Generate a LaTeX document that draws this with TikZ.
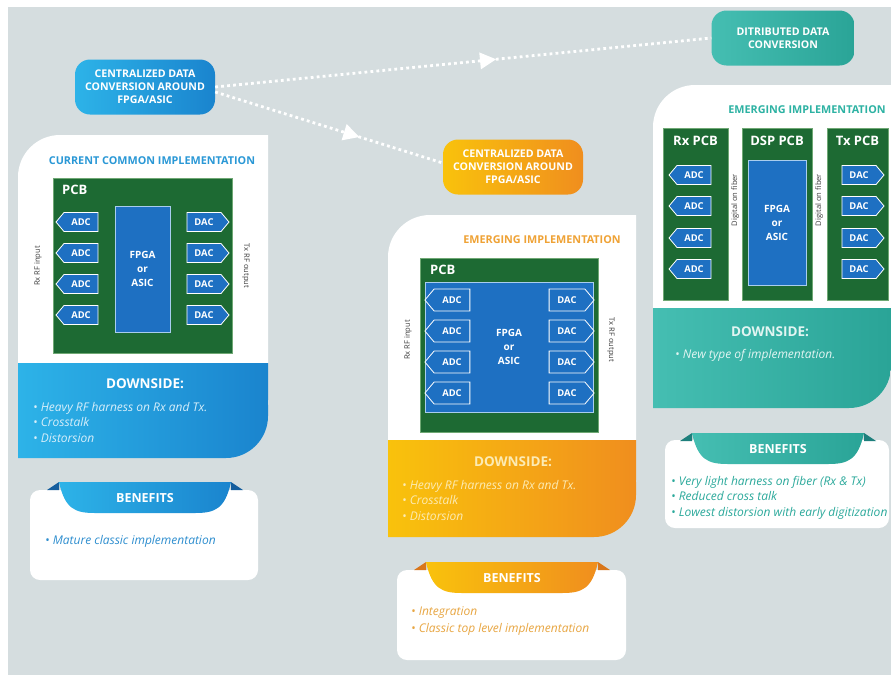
\documentclass[tikz,border=0pt]{standalone}
\usepackage{fontspec}
\setmainfont{Open Sans}
\usetikzlibrary{shapes.symbols,arrows.meta,decorations.markings}

\definecolor{bggray}{HTML}{D5DDDF}
\definecolor{pcbgreen}{HTML}{1D6A33}
\definecolor{pcbedge}{HTML}{6FA874}
\definecolor{chipblue}{HTML}{1E70C2}
\definecolor{chipedge}{HTML}{A9CDEE}
\definecolor{blueA}{HTML}{2DB3E8}
\definecolor{blueB}{HTML}{1A84CE}
\definecolor{blueDark}{HTML}{155E9E}
\definecolor{blueTitle}{HTML}{2A98D6}
\definecolor{blueText}{HTML}{2E8ECF}
\definecolor{blueLight}{HTML}{D6EEFA}
\definecolor{orA}{HTML}{F9C20C}
\definecolor{orB}{HTML}{F08E1E}
\definecolor{orDark}{HTML}{D9761A}
\definecolor{orTitle}{HTML}{EFA235}
\definecolor{orText}{HTML}{E8A642}
\definecolor{orLight}{HTML}{FCEBB4}
\definecolor{tlA}{HTML}{45BEB2}
\definecolor{tlB}{HTML}{2AA497}
\definecolor{tlDark}{HTML}{1E7F7C}
\definecolor{tlTitle}{HTML}{2DB2A3}
\definecolor{tlText}{HTML}{2BA99B}
\definecolor{tlLight}{HTML}{E2F5F2}
\definecolor{sidegray}{HTML}{3E3E3E}

\tikzset{
  pill/.style={rounded corners=15pt, minimum width=140pt, minimum height=55pt,
    text=white, font=\bfseries\fontsize{10.6}{12.8}\selectfont, align=center, inner sep=2pt},
  paneltitle/.style={font=\bfseries\fontsize{10.8}{11}\selectfont},
  pcbboard/.style={fill=pcbgreen, draw=pcbedge, line width=0.8pt, inner sep=0pt},
  pcblabel/.style={text=white, font=\bfseries\fontsize{13}{13}\selectfont, inner sep=0pt},
  chip/.style={fill=chipblue, draw=chipedge, line width=0.9pt, inner sep=0pt,
    text=white, font=\bfseries\fontsize{10}{14}\selectfont, align=center},
  tagbase/.style={signal, signal pointer angle=100, fill=chipblue, draw=white,
    line width=0.8pt, text=white, font=\bfseries\fontsize{9.4}{10}\selectfont,
    minimum width=42pt, minimum height=19pt, inner sep=1pt},
  adctag/.style={tagbase, signal to=west},
  dactag/.style={tagbase, signal to=east},
  bigadc/.style={adctag, minimum width=45pt, minimum height=22pt},
  bigdac/.style={dactag, minimum width=45pt, minimum height=22pt},
  sidelabel/.style={text=sidegray, font=\fontsize{7.6}{8}\selectfont, inner sep=0pt},
  downhead/.style={font=\bfseries\fontsize{13.5}{14}\selectfont, inner sep=0pt},
  bullets/.style={font=\itshape\fontsize{12}{15.5}\selectfont, align=left, inner sep=0pt},
  bentitle/.style={text=white, font=\bfseries\fontsize{12.5}{13}\selectfont, inner sep=0pt},
  dotlink/.style={white, line width=2.8pt, dash pattern=on 2.8pt off 3.2pt},
  linkarrow/.style={postaction={decorate}, decoration={markings,
    mark=at position #1 with {\fill[white, solid] (8pt,0) -- (-8pt,8.5pt) -- (-8pt,-8.5pt) -- cycle;}}},
  x=1pt, y=-1pt
}

% Ribbon tab carrying the BENEFITS heading: name, centre x, top y, light, dark-end, fold colour
\newcommand\benribbon[6]{%
  \fill[#6] ({#2-98},{#3+8}) -- ({#2-86},#3) -- ({#2-86},{#3+8}) -- cycle;
  \fill[#6] ({#2+98},{#3+8}) -- ({#2+86},#3) -- ({#2+86},{#3+8}) -- cycle;
  \shade[left color=#4, right color=#5] ({#2-86},#3) -- ({#2+86},#3)
    .. controls ({#2+80},{#3+27}) and ({#2+70},{#3+31}) .. ({#2+50},{#3+31})
    -- ({#2-50},{#3+31})
    .. controls ({#2-70},{#3+31}) and ({#2-80},{#3+27}) .. ({#2-86},#3) -- cycle;
  \node[bentitle] (#1) at (#2,{#3+16}) {BENEFITS};
}

\begin{document}
\begin{tikzpicture}
\useasboundingbox (0,0) rectangle (891,675);
\fill[white] (0,0) rectangle (891,675);
\fill[bggray] (8,7) rectangle (891,675);

% ---------- headline pills ----------
\node[pill, left color=blueA, right color=blueB] (cen) at (145,87)
  {CENTRALIZED DATA\\CONVERSION AROUND\\FPGA/ASIC};
\node[pill, left color=tlA, right color=tlB, minimum width=143pt] (dist) at (783,38)
  {DITRIBUTED DATA\\CONVERSION};
\node[pill, left color=orA, right color=orB] (cen2) at (513,167)
  {CENTRALIZED DATA\\CONVERSION AROUND\\FPGA/ASIC};

\draw[dotlink, linkarrow=0.55] (cen.east) -- (dist.west);
\draw[dotlink, linkarrow=0.6] ([yshift=-5pt]cen.east) -- ([yshift=4pt]cen2.west);

% ---------- panel 1: current common implementation ----------
\fill[white] [rounded corners=42pt] (18,135) rectangle (268,363)
  [sharp corners] (100,135) rectangle (268,363) (18,250) rectangle (268,363);
\shade[left color=blueA, right color=blueB] [rounded corners=42pt] (18,363) rectangle (268,458)
  [sharp corners] (18,363) rectangle (200,458) (18,363) rectangle (268,400);
\node[paneltitle, text=blueTitle] (t1) at (152,161) {CURRENT COMMON IMPLEMENTATION};

\node[pcbboard, minimum width=179pt, minimum height=175pt] (pcbA) at (142.5,265.5) {};
\node[pcblabel, anchor=west] (pcbAl) at (62,190) {PCB};
\node[chip, minimum width=55pt, minimum height=126pt] (fpgaA) at (142.5,269) {FPGA\\or\\ASIC};
\node[adctag] (a1) at (81,222) {ADC};
\node[adctag] (a2) at (81,253) {ADC};
\node[adctag] (a3) at (81,284) {ADC};
\node[adctag] (a4) at (81,315) {ADC};
\node[dactag] (d1) at (204,222) {DAC};
\node[dactag] (d2) at (204,253) {DAC};
\node[dactag] (d3) at (204,284) {DAC};
\node[dactag] (d4) at (204,315) {DAC};
\node[sidelabel, rotate=90] (rxA) at (38,266) {Rx RF input};
\node[sidelabel, rotate=-90] (txA) at (246,266) {Tx RF output};

\node[downhead, text=white] (dA) at (145,384) {DOWNSIDE:};
\node[bullets, text=blueLight, anchor=north west] (dAb) at (33,402)
  {• Heavy RF harness on Rx and Tx.\\• Crosstalk\\• Distorsion};

\fill[white, rounded corners=10pt] (30,490) rectangle (258,580);
\benribbon{bA}{145}{482}{blueA}{blueB}{blueDark}
\node[bullets, text=blueText, anchor=west] (bAb) at (45,541) {• Mature classic implementation};

% ---------- panel 2: emerging implementation, single board ----------
\fill[white] [rounded corners=42pt] (388,215) rectangle (636,440)
  [sharp corners] (470,215) rectangle (636,440) (388,300) rectangle (636,440);
\shade[left color=orA, right color=orB] [rounded corners=42pt] (388,440) rectangle (636,537)
  [sharp corners] (388,440) rectangle (570,537) (388,440) rectangle (636,480);
\node[paneltitle, text=orTitle] (t2) at (542,240) {EMERGING IMPLEMENTATION};

\node[pcbboard, minimum width=178pt, minimum height=174pt] (pcbB) at (509,345) {};
\node[pcblabel, anchor=west] (pcbBl) at (430,270) {PCB};
\node[chip, minimum width=168pt, minimum height=130pt] (fpgaB) at (509,347) {FPGA\\or\\ASIC};
\node[bigadc] (b1) at (452,300) {ADC};
\node[bigadc] (b2) at (452,331) {ADC};
\node[bigadc] (b3) at (452,362) {ADC};
\node[bigadc] (b4) at (452,393) {ADC};
\node[bigdac] (e1) at (567,300) {DAC};
\node[bigdac] (e2) at (567,331) {DAC};
\node[bigdac] (e3) at (567,362) {DAC};
\node[bigdac] (e4) at (567,393) {DAC};
\node[sidelabel, rotate=90] (rxB) at (408,340) {Rx RF input};
\node[sidelabel, rotate=-90] (txB) at (611,340) {Tx RF output};

\node[downhead, text=orLight] (dB) at (513,462) {DOWNSIDE:};
\node[bullets, text=orLight, anchor=north west] (dBb) at (402,480)
  {• Heavy RF harness on Rx and Tx.\\• Crosstalk\\• Distorsion};

\fill[white, rounded corners=10pt] (397,570) rectangle (626,660);
\benribbon{bB}{512}{562}{orA}{orB}{orDark}
\node[bullets, text=orText, anchor=north west, font=\itshape\fontsize{12}{17}\selectfont] (bBb) at (411,606)
  {• Integration\\• Classic top level implementation};

% ---------- panel 3: emerging implementation, distributed boards ----------
\fill[white] [rounded corners=42pt] (653,85) rectangle (891,308)
  [sharp corners] (740,85) rectangle (891,308) (653,170) rectangle (891,308);
\shade[left color=tlA, right color=tlB] [rounded corners=42pt] (653,308) rectangle (891,408)
  [sharp corners] (653,308) rectangle (820,408) (653,308) rectangle (891,350);
\node[paneltitle, text=tlTitle] (t3) at (807,110) {EMERGING IMPLEMENTATION};

\node[pcbboard, minimum width=65pt, minimum height=172pt] (rxpcb) at (695.5,214) {};
\node[pcbboard, minimum width=70pt, minimum height=172pt] (dsppcb) at (777,214) {};
\node[pcbboard, minimum width=61pt, minimum height=172pt] (txpcb) at (857.5,214) {};
\node[pcblabel] (rxl) at (695.5,141) {Rx PCB};
\node[pcblabel] (dspl) at (777,141) {DSP PCB};
\node[pcblabel] (txl) at (857.5,141) {Tx PCB};
\node[chip, minimum width=58pt, minimum height=125pt] (fpgaC) at (777,222.5) {FPGA\\or\\ASIC};
\node[adctag] (c1) at (694,175) {ADC};
\node[adctag] (c2) at (694,206) {ADC};
\node[adctag] (c3) at (694,238) {ADC};
\node[adctag] (c4) at (694,269) {ADC};
\node[dactag] (f1) at (859,175) {DAC};
\node[dactag] (f2) at (859,206) {DAC};
\node[dactag] (f3) at (859,238) {DAC};
\node[dactag] (f4) at (859,269) {DAC};
\node[sidelabel, rotate=90] (fib1) at (735,200) {Digital on fiber};
\node[sidelabel, rotate=90] (fib2) at (819,200) {Digital on fiber};

\node[downhead, text=tlLight] (dC) at (770,332) {DOWNSIDE:};
\node[bullets, text=tlLight, anchor=west] (dCb) at (675,355) {• New type of implementation.};

\fill[white, rounded corners=10pt] (665,440) rectangle (889,528);
\benribbon{bC}{778}{433}{tlA}{tlB}{tlDark}
\node[bullets, text=tlText, anchor=north west] (bCb) at (671,476)
  {• Very light harness on fiber (Rx \& Tx)\\• Reduced cross talk\\• Lowest distorsion with early digitization};
\end{tikzpicture}
\end{document}
